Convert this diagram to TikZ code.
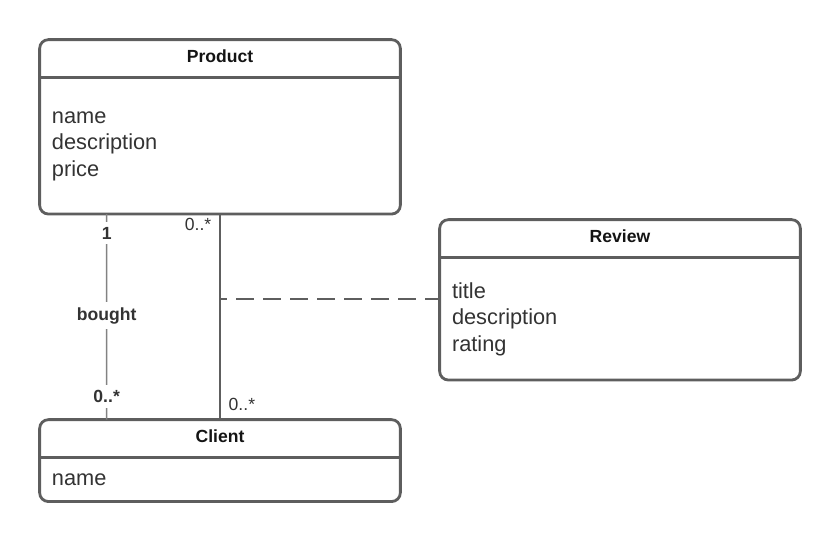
\documentclass[tikz,border=0pt]{standalone}
\usepackage{fontspec}
\setmainfont{Liberation Sans}
\usepackage{tikz}
\usetikzlibrary{positioning}
\definecolor{umlgray}{RGB}{94,94,94}
\definecolor{umllightgray}{RGB}{130,130,130}
\definecolor{umltext}{RGB}{51,51,51}
\definecolor{umlhead}{RGB}{20,20,20}
\tikzstyle{frame} = [draw=umlgray, line width=1.6pt, rounded corners=5pt]
\tikzstyle{classhead} = [rectangle, minimum width=7.2cm, minimum height=0.75cm, inner sep=0pt, text height=7.5pt, text depth=3pt, text centered, font=\fontsize{10}{12}\selectfont\bfseries, text=umlhead]
\tikzstyle{classbody} = [rectangle, minimum width=7.2cm, inner xsep=0.24cm, inner ysep=0pt, text width=6.72cm, align=left, font=\fontsize{12.4}{15.1}\selectfont, text=umltext]
\tikzstyle{assoc} = [line width=1.1pt, color=umlgray]
\tikzstyle{link} = [line width=0.9pt, color=umllightgray]
\tikzstyle{mult} = [font=\fontsize{10}{12}\selectfont, text=umltext, inner sep=1pt]

\begin{document}
\begin{tikzpicture}
\useasboundingbox (0,0) rectangle (16.8,-10.8);

% Product class
\node (producthead) [classhead] at (4.4,-1.175) {Product};
\node (productbody) [classbody, below=0pt of producthead, minimum height=2.71cm] {name\\description\\price};
\draw[frame] (producthead.north west) rectangle (productbody.south east);
\draw[frame] (producthead.south west) -- (producthead.south east);

% Review class
\node (reviewhead) [classhead] at (12.4,-4.775) {Review};
\node (reviewbody) [classbody, below=0pt of reviewhead, minimum height=2.43cm] {title\\description\\rating};
\draw[frame] (reviewhead.north west) rectangle (reviewbody.south east);
\draw[frame] (reviewhead.south west) -- (reviewhead.south east);

% Client class
\node (clienthead) [classhead] at (4.4,-8.775) {Client};
\node (clientbody) [classbody, below=0pt of clienthead, minimum height=0.86cm] {name};
\draw[frame] (clienthead.north west) rectangle (clientbody.south east);
\draw[frame] (clienthead.south west) -- (clienthead.south east);

% Connections
\draw[link] ([xshift=1.34cm]productbody.south west) -- ([xshift=1.34cm]clienthead.north west)
  node[pos=0.092, mult, fill=white, inner sep=3pt, font=\fontsize{10}{12}\selectfont\bfseries] {1}
  node[pos=0.495, mult, fill=white, inner sep=3pt, font=\fontsize{10}{12}\selectfont\bfseries] {bought}
  node[pos=0.888, mult, fill=white, inner sep=3pt, font=\fontsize{10}{12}\selectfont\bfseries] {0..*};
\draw[assoc] (productbody.south) -- (clienthead.north)
  coordinate[pos=0.415] (assocpt)
  node[pos=0, mult, anchor=north east, xshift=-0.12cm, yshift=-0.02cm] {0..*}
  node[pos=1, mult, anchor=south west, xshift=0.12cm, yshift=0.12cm] {0..*};
\draw[assoc, dash pattern=on 0.36cm off 0.18cm, dash phase=0.22cm] (assocpt) -- (assocpt -| reviewbody.west);
\end{tikzpicture}
\end{document}
